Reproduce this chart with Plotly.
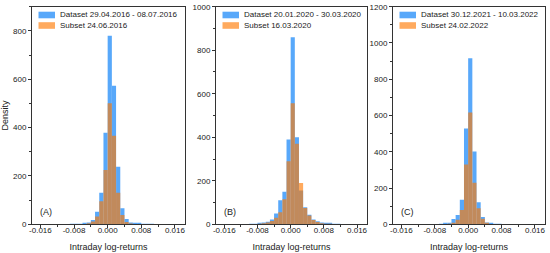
import plotly.graph_objects as go

# bin centres (bin width 0.001)
bins = [-0.0095, -0.0085, -0.0075, -0.0065, -0.0055, -0.0045, -0.0035, -0.0025,
        -0.0015, -0.0005, 0.0005, 0.0015, 0.0025, 0.0035, 0.0045, 0.0055,
        0.0065, 0.0075, 0.0085, 0.0095, 0.0105, 0.0115]

# panel A
dataset_a = [0, 1, 1, 2, 3, 7, 18, 52, 131, 379, 780, 573, 238, 66, 22, 7, 4, 3, 2, 1, 1, 0]
subset_a = [0, 0, 0, 0, 1, 4, 12, 32, 95, 225, 501, 366, 131, 38, 10, 3, 1, 0, 0, 0, 0, 0]
# panel B
dataset_b = [1, 2, 5, 8, 12, 22, 50, 110, 150, 390, 860, 400, 155, 78, 44, 22, 14, 8, 5, 3, 2, 1]
subset_b = [0, 0, 2, 5, 8, 15, 30, 55, 115, 290, 556, 370, 190, 75, 40, 20, 10, 5, 3, 2, 1, 0]
# panel C
dataset_c = [0, 0, 0, 1, 4, 8, 29, 51, 135, 528, 916, 401, 121, 40, 10, 4, 2, 1, 0, 0, 0, 0]
subset_c = [0, 0, 0, 0, 1, 3, 8, 25, 79, 330, 616, 229, 88, 30, 8, 2, 0, 0, 0, 0, 0, 0]

dataset_names = ["Dataset 29.04.2016 - 08.07.2016", "Dataset 20.01.2020 - 30.03.2020",
                 "Dataset 30.12.2021 - 10.03.2022"]
subset_names = ["Subset 24.06.2016", "Subset 16.03.2020", "Subset 24.02.2022"]
panel_labels = ["(A)", "(B)", "(C)"]
y_max = [900, 1000, 1200]

x_ticks = [-0.016, -0.008, 0.0, 0.008, 0.016]
x_ticktext = ["-0.016", "-0.008", "0.000", "0.008", "0.016"]

BLUE = "rgb(88,168,250)"
ORANGE = "rgba(255,120,0,0.63)"
FONT = "Liberation Sans, Arial, sans-serif"
W, H = 550, 253

# pixel boxes of the three panels
panels_px = [(32, 185), (216, 367), (393, 545)]
top_px, bot_px = 6.7, 224.3

fig = go.Figure()
series = [(dataset_a, subset_a), (dataset_b, subset_b), (dataset_c, subset_c)]

for i, (ds, ss) in enumerate(series):
    n = "" if i == 0 else str(i + 1)
    fig.add_trace(go.Bar(x=bins, y=ds, width=0.001, marker=dict(color=BLUE, line=dict(width=0)),
                         name=dataset_names[i], xaxis="x" + n, yaxis="y" + n, showlegend=False))
    fig.add_trace(go.Bar(x=bins, y=ss, width=0.001, marker=dict(color=ORANGE, line=dict(width=0)),
                         name=subset_names[i], xaxis="x" + n, yaxis="y" + n, showlegend=False))

layout = dict(width=W, height=H, margin=dict(l=0, r=0, t=0, b=0), barmode="overlay",
              plot_bgcolor="white", paper_bgcolor="white", showlegend=False,
              font=dict(family=FONT, size=9, color="#222"))

shapes, annotations = [], []
for i, (x0, x1) in enumerate(panels_px):
    n = "" if i == 0 else str(i + 1)
    wpx = x1 - x0
    hpx = bot_px - top_px
    axis_common = dict(showline=True, linecolor="#333", linewidth=1, mirror=True,
                       ticks="outside", ticklen=3, tickcolor="#333", showgrid=False,
                       zeroline=False, automargin=False, tickfont=dict(size=8))
    layout["xaxis" + n] = dict(axis_common, domain=[x0 / W, x1 / W], range=[-0.018, 0.0184],
                               tickvals=x_ticks, ticktext=x_ticktext, anchor="y" + n,
                               ticklabelstandoff=-5,
                               minor=dict(dtick=0.004, tick0=0, ticks="outside", ticklen=2, tickcolor="#333"),
                               title=dict(text="Intraday log-returns", font=dict(size=9), standoff=9))
    layout["yaxis" + n] = dict(axis_common, domain=[1 - bot_px / H, 1 - top_px / H], range=[0, y_max[i]],
                               dtick=200, anchor="x" + n,
                               minor=dict(dtick=100, ticks="outside", ticklen=2, tickcolor="#333"))
    if i == 0:
        layout["yaxis"]["title"] = dict(text="Density", font=dict(size=9), standoff=4)

    xr, yr = "x" + n + " domain", "y" + n + " domain"
    for j, (name, col) in enumerate([(dataset_names[i], BLUE), (subset_names[i], ORANGE)]):
        yc = 15 + j * 10.5
        yd = 1 - (yc - top_px) / hpx
        shapes.append(dict(type="rect", xref=xr, yref=yr, x0=6.5 / wpx, x1=23 / wpx,
                           y0=yd - 3.3 / hpx, y1=yd + 3.3 / hpx, fillcolor=col, line=dict(width=0)))
        annotations.append(dict(xref=xr, yref=yr, x=26 / wpx, y=yd, text=name, showarrow=False,
                                xanchor="left", yanchor="middle", font=dict(size=8)))
    annotations.append(dict(xref=xr, yref=yr, x=6 / wpx, y=(bot_px - 212) / hpx, text=panel_labels[i],
                            showarrow=False, xanchor="left", yanchor="middle", font=dict(size=9)))

layout["shapes"] = shapes
layout["annotations"] = annotations
fig.update_layout(**layout)
fig.write_html("out.html", config={"displayModeBar": False},
               post_script="document.body.style.margin='0';")
